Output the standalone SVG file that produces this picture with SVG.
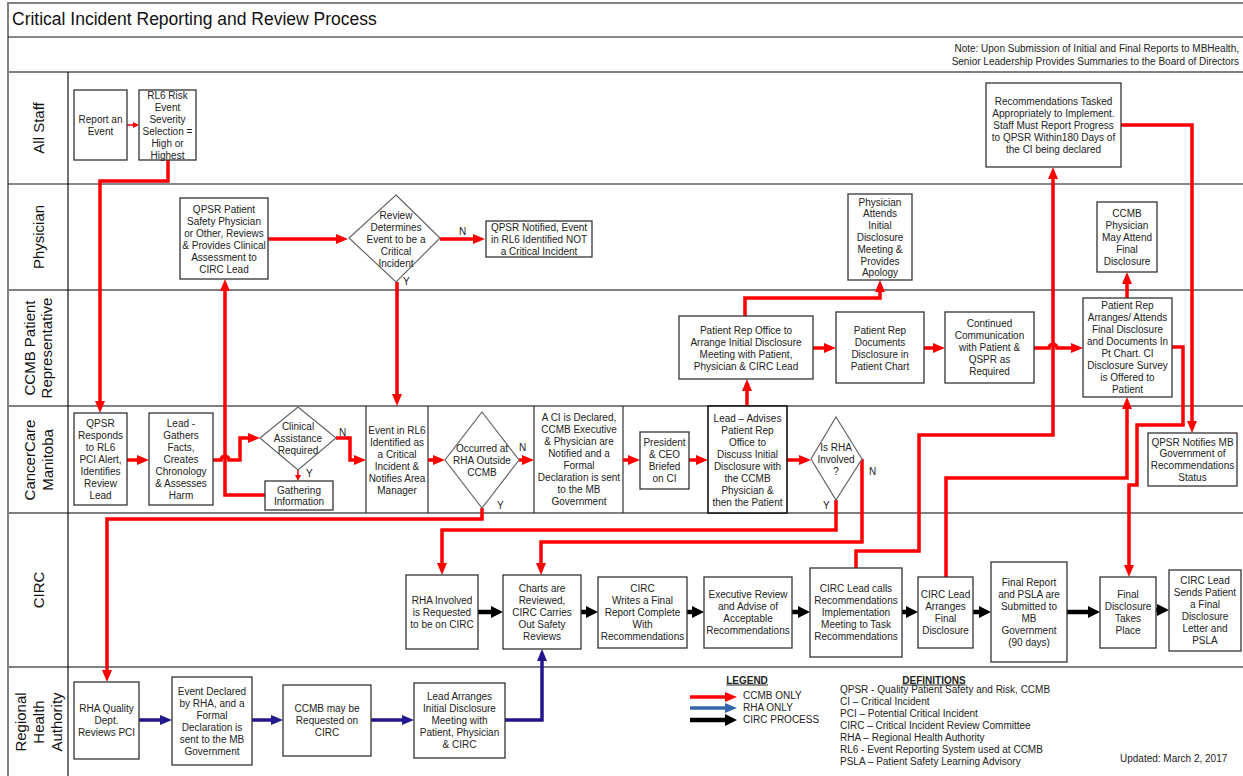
<svg xmlns="http://www.w3.org/2000/svg" width="1243" height="776" viewBox="0 0 1243 776">
<style>
.box{fill:#fff;stroke:#333;stroke-width:1.3}
.dia{fill:#fff;stroke:#666;stroke-width:1.2}
.cell{stroke:#333;stroke-width:1.2;fill:none}
.t{font-family:"Liberation Sans",Arial,sans-serif;font-size:10px;fill:#222;text-anchor:middle}
.s{font-family:"Liberation Sans",Arial,sans-serif;font-size:10px;fill:#222}
.lane{font-family:"Liberation Sans",Arial,sans-serif;font-size:15px;fill:#111;text-anchor:middle}
.gl{stroke:#808080;stroke-width:2;fill:none}
.bl{stroke:#111;stroke-width:1.2;fill:none}
.r{fill:none;stroke:#f00;stroke-width:3.5;marker-end:url(#ar)}
.rs{fill:none;stroke:#f00;stroke-width:1.5;marker-end:url(#ars)}
.b{fill:none;stroke:#23168c;stroke-width:3.5;marker-end:url(#ab)}
.bl2{fill:none;stroke:#3565ad;stroke-width:3.5;marker-end:url(#ab2)}
.k{fill:none;stroke:#000;stroke-width:4.5;marker-end:url(#ak)}
</style>
<defs>
<marker id="ar" markerUnits="userSpaceOnUse" markerWidth="12" markerHeight="10" refX="3" refY="5" orient="auto"><path d="M0,0 L12,5 L0,10 z" fill="#f00"/></marker>
<marker id="ars" markerUnits="userSpaceOnUse" markerWidth="6" markerHeight="6" refX="1" refY="3" orient="auto"><path d="M0,0 L6,3 L0,6 z" fill="#f00"/></marker>
<marker id="ab" markerUnits="userSpaceOnUse" markerWidth="12" markerHeight="10" refX="3" refY="5" orient="auto"><path d="M0,0 L12,5 L0,10 z" fill="#23168c"/></marker>
<marker id="ab2" markerUnits="userSpaceOnUse" markerWidth="12" markerHeight="10" refX="3" refY="5" orient="auto"><path d="M0,0 L12,5 L0,10 z" fill="#3565ad"/></marker>
<marker id="ak" markerUnits="userSpaceOnUse" markerWidth="12" markerHeight="12" refX="3" refY="6" orient="auto"><path d="M0,0 L12,6 L0,12 z" fill="#000"/></marker>
</defs>
<rect x="0" y="0" width="1243" height="776" fill="#fff"/>

<g id="frame">
<path class="gl" d="M8,780 V3 H1250"/>
<path class="bl" d="M8,37 H1250"/>
<path class="gl" d="M8,72 H1250"/>
<path class="bl" d="M8,184 H1250"/>
<path class="gl" d="M8,290 H1250"/>
<path class="gl" d="M8,406 H1250"/>
<path class="gl" d="M8,513 H1250"/>
<path class="gl" d="M8,667 H1250"/>
<path class="bl" d="M68,72 V780"/>
<path class="cell" d="M366,406 V513 M428,406 V513 M534,406 V513 M623,406 V513"/>
<text x="12" y="25" font-family="Liberation Sans, Arial, sans-serif" font-size="17.5" fill="#111">Critical Incident Reporting and Review Process</text>
<text class="s" x="1239" y="52" text-anchor="end">Note: Upon Submission of Initial and Final Reports to MBHealth,</text>
<text class="s" x="1239" y="64.5" text-anchor="end">Senior Leadership Provides Summaries to the Board of Directors</text>
</g>

<g id="lanes">
<g transform="translate(0,128) rotate(-90)"><text class="lane" x="0" y="43.5">All Staff</text></g>
<g transform="translate(0,237) rotate(-90)"><text class="lane" x="0" y="43.5">Physician</text></g>
<g transform="translate(0,348) rotate(-90)"><text class="lane" x="0" y="34.5">CCMB Patient<tspan x="0" dy="17.5">Representative</tspan></text></g>
<g transform="translate(0,460) rotate(-90)"><text class="lane" x="0" y="34.5">CancerCare<tspan x="0" dy="18">Manitoba</tspan></text></g>
<g transform="translate(0,590) rotate(-90)"><text class="lane" x="0" y="43.5">CIRC</text></g>
<g transform="translate(0,722) rotate(-90)"><text class="lane" x="0" y="25.5">Regional<tspan x="0" dy="18">Health</tspan><tspan x="0" dy="18">Authority</tspan></text></g>
</g>

<g id="connectors">
<path class="rs" d="M127,125 H134"/>
<path class="r" d="M168,160 V181 H100 V404"/>
<path class="r" d="M127,460 H140"/>
<path class="r" d="M213,460 H221 A4,4 0 0 1 229,460 H240 V438 H251"/>
<path class="r" d="M265,495 H225 V288"/>
<path class="rs" d="M298,470 V476"/>
<path class="r" d="M336,438 H350 V460 H357"/>
<path class="r" d="M440,239 H476"/>
<path class="r" d="M268,239 H339"/>
<path class="r" d="M397,282 V397"/>
<path class="r" d="M428,460 H436"/>
<path class="r" d="M519,460 H525"/>
<path class="r" d="M623,460 H631"/>
<path class="r" d="M689,460 H699"/>
<path class="r" d="M787,460 H802"/>
<path class="r" d="M747,406 V388"/>
<path class="r" d="M745,316 V298 H880 V289"/>
<path class="r" d="M813,348 H827"/>
<path class="r" d="M924,348 H936"/>
<path class="r" d="M1034,348 H1049 A4,4 0 0 1 1057,348 H1074"/>
<path class="r" d="M1127,298 V281"/>
<path class="r" d="M482,508 V519 H107 V673"/>
<path class="r" d="M836,500 V530 H442 V566"/>
<path class="r" d="M862,459 V542 H541 V566"/>
<path class="r" d="M856,568 V551 H919 V435 H1053 V176"/>
<path class="r" d="M946,577 V478 H1127 V406"/>
<path class="r" d="M1172,347 H1183 V425 H1137 V485 H1129 V568"/>
<path class="r" d="M1121,125 H1192 V424"/>
<path class="b" d="M139,720 H163"/>
<path class="b" d="M252,720 H274"/>
<path class="b" d="M371,720 H405"/>
<path class="b" d="M505,720 H542 V658"/>
<path class="k" d="M478,612 H494"/>
<path class="k" d="M581,612 H589"/>
<path class="k" d="M687,612 H695"/>
<path class="k" d="M792,612 H801"/>
<path class="k" d="M902,612 H909"/>
<path class="k" d="M973,612 H982"/>
<path class="k" d="M1067,612 H1091"/>
<path class="k" d="M1156,610 H1160"/>
<text class="s" x="459" y="234.5">N</text>
<text class="s" x="403" y="284.5">Y</text>
<text class="s" x="339" y="435.5">N</text>
<text class="s" x="306" y="476.5">Y</text>
<text class="s" x="519" y="450.5">N</text>
<text class="s" x="497" y="508.5">Y</text>
<text class="s" x="869" y="474.5">N</text>
<text class="s" x="823" y="508.5">Y</text>
</g>

<g id="n-report"><rect class="box" x="74" y="90" width="53" height="70"/><text class="t" x="100.5" y="122.5">Report an<tspan x="100.5" dy="12">Event</tspan></text></g>
<g id="n-rl6"><rect class="box" x="139" y="90" width="57" height="70"/><text class="t" x="167.5" y="98.5">RL6 Risk<tspan x="167.5" dy="12">Event</tspan><tspan x="167.5" dy="12">Severity</tspan><tspan x="167.5" dy="12">Selection =</tspan><tspan x="167.5" dy="12">High or</tspan><tspan x="167.5" dy="12">Highest</tspan></text></g>
<g id="n-rectasked"><rect class="box" x="986" y="83" width="135" height="84"/><text class="t" x="1053.5" y="104.5">Recommendations Tasked<tspan x="1053.5" dy="12">Appropriately to Implement.</tspan><tspan x="1053.5" dy="12">Staff Must Report Progress</tspan><tspan x="1053.5" dy="12">to QPSR Within180 Days of</tspan><tspan x="1053.5" dy="12">the CI being declared</tspan></text></g>

<g id="n-qpsrphys"><rect class="box" x="180" y="198" width="88" height="81"/><text class="t" x="224" y="212.5">QPSR Patient<tspan x="224" dy="12">Safety Physician</tspan><tspan x="224" dy="12">or Other, Reviews</tspan><tspan x="224" dy="12">&amp; Provides Clinical</tspan><tspan x="224" dy="12">Assessment to</tspan><tspan x="224" dy="12">CIRC Lead</tspan></text></g>
<g id="n-review"><polygon class="dia" points="396,195 440,238 396,282 349,238"/><text class="t" x="396" y="218.5">Review<tspan x="396" dy="12">Determines</tspan><tspan x="396" dy="12">Event to be a</tspan><tspan x="396" dy="12">Critical</tspan><tspan x="396" dy="12">Incident</tspan></text></g>
<g id="n-notci"><rect class="box" x="486" y="221" width="106" height="36"/><text class="t" x="539" y="230.5">QPSR Notified, Event<tspan x="539" dy="12">in RL6 Identified NOT</tspan><tspan x="539" dy="12">a Critical Incident</tspan></text></g>
<g id="n-physattends"><rect class="box" x="848" y="194" width="64" height="86"/><text class="t" x="880" y="205.5">Physician<tspan x="880" dy="11.8">Attends</tspan><tspan x="880" dy="11.8">Initial</tspan><tspan x="880" dy="11.8">Disclosure</tspan><tspan x="880" dy="11.8">Meeting &amp;</tspan><tspan x="880" dy="11.8">Provides</tspan><tspan x="880" dy="11.8">Apology</tspan></text></g>
<g id="n-ccmbphys"><rect class="box" x="1097" y="202" width="60" height="70"/><text class="t" x="1127" y="216.5">CCMB<tspan x="1127" dy="12">Physician</tspan><tspan x="1127" dy="12">May Attend</tspan><tspan x="1127" dy="12">Final</tspan><tspan x="1127" dy="12">Disclosure</tspan></text></g>

<g id="n-proffice"><rect class="box" x="679" y="316" width="134" height="63"/><text class="t" x="746" y="333.5">Patient Rep Office to<tspan x="746" dy="12">Arrange Initial Disclosure</tspan><tspan x="746" dy="12">Meeting with Patient,</tspan><tspan x="746" dy="12">Physician &amp; CIRC Lead</tspan></text></g>
<g id="n-prdocs"><rect class="box" x="836" y="312" width="88" height="71"/><text class="t" x="880" y="333.5">Patient Rep<tspan x="880" dy="12">Documents</tspan><tspan x="880" dy="12">Disclosure in</tspan><tspan x="880" dy="12">Patient Chart</tspan></text></g>
<g id="n-continued"><rect class="box" x="945" y="312" width="89" height="71"/><text class="t" x="989.5" y="326.5">Continued<tspan x="989.5" dy="12">Communication</tspan><tspan x="989.5" dy="12">with Patient &amp;</tspan><tspan x="989.5" dy="12">QSPR as</tspan><tspan x="989.5" dy="12">Required</tspan></text></g>
<g id="n-prarranges"><rect class="box" x="1083" y="298" width="89" height="99"/><text class="t" x="1127.5" y="308.5">Patient Rep<tspan x="1127.5" dy="12">Arranges/ Attends</tspan><tspan x="1127.5" dy="12">Final Disclosure</tspan><tspan x="1127.5" dy="12">and Documents In</tspan><tspan x="1127.5" dy="12">Pt Chart. CI</tspan><tspan x="1127.5" dy="12">Disclosure Survey</tspan><tspan x="1127.5" dy="12">is Offered to</tspan><tspan x="1127.5" dy="12">Patient</tspan></text></g>

<g id="n-qpsrresponds"><rect class="box" x="74" y="413" width="53" height="92"/><text class="t" x="100.5" y="426.5">QPSR<tspan x="100.5" dy="12">Responds</tspan><tspan x="100.5" dy="12">to RL6</tspan><tspan x="100.5" dy="12">PCI  Alert,</tspan><tspan x="100.5" dy="12">Identifies</tspan><tspan x="100.5" dy="12">Review</tspan><tspan x="100.5" dy="12">Lead</tspan></text></g>
<g id="n-leadgathers"><rect class="box" x="149" y="413" width="64" height="92"/><text class="t" x="181" y="426.5">Lead -<tspan x="181" dy="12">Gathers</tspan><tspan x="181" dy="12">Facts,</tspan><tspan x="181" dy="12">Creates</tspan><tspan x="181" dy="12">Chronology</tspan><tspan x="181" dy="12">&amp; Assesses</tspan><tspan x="181" dy="12">Harm</tspan></text></g>
<g id="n-clinical"><polygon class="dia" points="298,407 336,438 298,470 260,438"/><text class="t" x="298" y="429.5">Clinical<tspan x="298" dy="12">Assistance</tspan><tspan x="298" dy="12">Required</tspan></text></g>
<g id="n-gathering"><rect class="box" x="265" y="481" width="68" height="29"/><text class="t" x="299" y="493.5">Gathering<tspan x="299" dy="11.5">Information</tspan></text></g>
<g id="n-eventrl6"><text class="t" x="397" y="433.5">Event in RL6<tspan x="397" dy="12">Identified as</tspan><tspan x="397" dy="12">a Critical</tspan><tspan x="397" dy="12">Incident &amp;</tspan><tspan x="397" dy="12">Notifies Area</tspan><tspan x="397" dy="12">Manager</tspan></text></g>
<g id="n-occurred"><polygon class="dia" points="482,412 519,460 482,508 445,460"/><text class="t" x="482" y="451.5">Occurred at<tspan x="482" dy="12">RHA Outside</tspan><tspan x="482" dy="12">CCMB</tspan></text></g>
<g id="n-cideclared"><text class="t" x="579" y="420.5">A CI is Declared,<tspan x="579" dy="12">CCMB Executive</tspan><tspan x="579" dy="12">&amp; Physician are</tspan><tspan x="579" dy="12">Notified and a</tspan><tspan x="579" dy="12">Formal</tspan><tspan x="579" dy="12">Declaration is sent</tspan><tspan x="579" dy="12">to the MB</tspan><tspan x="579" dy="12">Government</tspan></text></g>
<g id="n-president"><rect class="box" x="640" y="432" width="49" height="57"/><text class="t" x="664.5" y="445.5">President<tspan x="664.5" dy="12">&amp; CEO</tspan><tspan x="664.5" dy="12">Briefed</tspan><tspan x="664.5" dy="12">on CI</tspan></text></g>
<g id="n-leadadvises"><rect x="708" y="406" width="79" height="107" fill="#fff" stroke="#111" stroke-width="1.6"/><text class="t" x="747.5" y="421.5">Lead – Advises<tspan x="747.5" dy="12">Patient Rep</tspan><tspan x="747.5" dy="12">Office to</tspan><tspan x="747.5" dy="12">Discuss Initial</tspan><tspan x="747.5" dy="12">Disclosure with</tspan><tspan x="747.5" dy="12">the CCMB</tspan><tspan x="747.5" dy="12">Physician &amp;</tspan><tspan x="747.5" dy="12">then the Patient</tspan></text></g>
<g id="n-isrha"><polygon class="dia" points="836,417 862,459 836,500 811,459"/><text class="t" x="836" y="450.5">Is RHA<tspan x="836" dy="12">Involved</tspan><tspan x="836" dy="12">?</tspan></text></g>
<g id="n-qpsrnotifies"><rect class="box" x="1148" y="433" width="89" height="53"/><text class="t" x="1192.5" y="445.5">QPSR Notifies MB<tspan x="1192.5" dy="11.8">Government of</tspan><tspan x="1192.5" dy="11.8">Recommendations</tspan><tspan x="1192.5" dy="11.8">Status</tspan></text></g>

<g id="n-rhainvolved"><rect class="box" x="406" y="575" width="72" height="74"/><text class="t" x="442" y="603.5">RHA Involved<tspan x="442" dy="12">is Requested</tspan><tspan x="442" dy="12">to be on CIRC</tspan></text></g>
<g id="n-charts"><rect class="box" x="503" y="575" width="78" height="74"/><text class="t" x="542" y="591.5">Charts are<tspan x="542" dy="12">Reviewed,</tspan><tspan x="542" dy="12">CIRC Carries</tspan><tspan x="542" dy="12">Out Safety</tspan><tspan x="542" dy="12">Reviews</tspan></text></g>
<g id="n-circwrites"><rect class="box" x="598" y="577" width="89" height="71"/><text class="t" x="642.5" y="591.5">CIRC<tspan x="642.5" dy="12">Writes a Final</tspan><tspan x="642.5" dy="12">Report Complete</tspan><tspan x="642.5" dy="12">With</tspan><tspan x="642.5" dy="12">Recommendations</tspan></text></g>
<g id="n-exec"><rect class="box" x="704" y="577" width="88" height="71"/><text class="t" x="748" y="597.5">Executive Review<tspan x="748" dy="12">and Advise of</tspan><tspan x="748" dy="12">Acceptable</tspan><tspan x="748" dy="12">Recommendations</tspan></text></g>
<g id="n-circcalls"><rect class="box" x="810" y="568" width="92" height="89"/><text class="t" x="856" y="591.5">CIRC Lead calls<tspan x="856" dy="12">Recommendations</tspan><tspan x="856" dy="12">Implementation</tspan><tspan x="856" dy="12">Meeting to Task</tspan><tspan x="856" dy="12">Recommendations</tspan></text></g>
<g id="n-circarranges"><rect class="box" x="918" y="577" width="55" height="71"/><text class="t" x="945.5" y="597.5">CIRC Lead<tspan x="945.5" dy="12">Arranges</tspan><tspan x="945.5" dy="12">Final</tspan><tspan x="945.5" dy="12">Disclosure</tspan></text></g>
<g id="n-finalreport"><rect class="box" x="991" y="562" width="76" height="100"/><text class="t" x="1029" y="585.5">Final Report<tspan x="1029" dy="12">and PSLA are</tspan><tspan x="1029" dy="12">Submitted to</tspan><tspan x="1029" dy="12">MB</tspan><tspan x="1029" dy="12">Government</tspan><tspan x="1029" dy="12">(90 days)</tspan></text></g>
<g id="n-finaldisc"><rect class="box" x="1100" y="577" width="56" height="71"/><text class="t" x="1128" y="597.5">Final<tspan x="1128" dy="12">Disclosure</tspan><tspan x="1128" dy="12">Takes</tspan><tspan x="1128" dy="12">Place</tspan></text></g>
<g id="n-circsends"><rect class="box" x="1169" y="570" width="72" height="81"/><text class="t" x="1205" y="583.5">CIRC Lead<tspan x="1205" dy="12">Sends Patient</tspan><tspan x="1205" dy="12">a Final</tspan><tspan x="1205" dy="12">Disclosure</tspan><tspan x="1205" dy="12">Letter and</tspan><tspan x="1205" dy="12">PSLA</tspan></text></g>

<g id="n-rhaquality"><rect class="box" x="74" y="682" width="65" height="77"/><text class="t" x="106.5" y="711.5">RHA Quality<tspan x="106.5" dy="12">Dept.</tspan><tspan x="106.5" dy="12">Reviews PCI</tspan></text></g>
<g id="n-eventdeclared"><rect class="box" x="172" y="677" width="80" height="88"/><text class="t" x="212" y="694.5">Event Declared<tspan x="212" dy="12">by RHA, and a</tspan><tspan x="212" dy="12">Formal</tspan><tspan x="212" dy="12">Declaration is</tspan><tspan x="212" dy="12">sent to the MB</tspan><tspan x="212" dy="12">Government</tspan></text></g>
<g id="n-ccmbmay"><rect class="box" x="283" y="685" width="88" height="71"/><text class="t" x="327" y="711.5">CCMB may be<tspan x="327" dy="12">Requested on</tspan><tspan x="327" dy="12">CIRC</tspan></text></g>
<g id="n-leadarranges"><rect class="box" x="414" y="683" width="91" height="75"/><text class="t" x="459.5" y="699.5">Lead Arranges<tspan x="459.5" dy="12">Initial Disclosure</tspan><tspan x="459.5" dy="12">Meeting with</tspan><tspan x="459.5" dy="12">Patient, Physician</tspan><tspan x="459.5" dy="12">&amp; CIRC</tspan></text></g>

<g id="legend">
<text class="t" x="747" y="683.5" font-weight="bold" text-decoration="underline">LEGEND</text>
<path class="r" d="M690,697 H728"/>
<path class="bl2" d="M690,708 H728"/>
<path class="k" d="M690,720 H728"/>
<text class="s" x="743" y="698.5">CCMB ONLY</text>
<text class="s" x="743" y="710.5">RHA ONLY</text>
<text class="s" x="743" y="722.5">CIRC PROCESS</text>
</g>
<g id="definitions">
<text class="t" x="934" y="683.5" font-weight="bold" text-decoration="underline">DEFINITIONS</text>
<text class="s" x="840" y="692.5">QPSR - Quality Patient Safety and Risk, CCMB<tspan x="840" dy="12">CI – Critical Incident</tspan><tspan x="840" dy="12">PCI – Potential Critical Incident</tspan><tspan x="840" dy="12">CIRC – Critical Incident Review Committee</tspan><tspan x="840" dy="12">RHA – Regional Health Authority</tspan><tspan x="840" dy="12">RL6 - Event Reporting System used at CCMB</tspan><tspan x="840" dy="12">PSLA – Patient Safety Learning Advisory</tspan></text>
<text class="s" x="1120" y="761.5">Updated: March 2, 2017</text>
</g>
</svg>
